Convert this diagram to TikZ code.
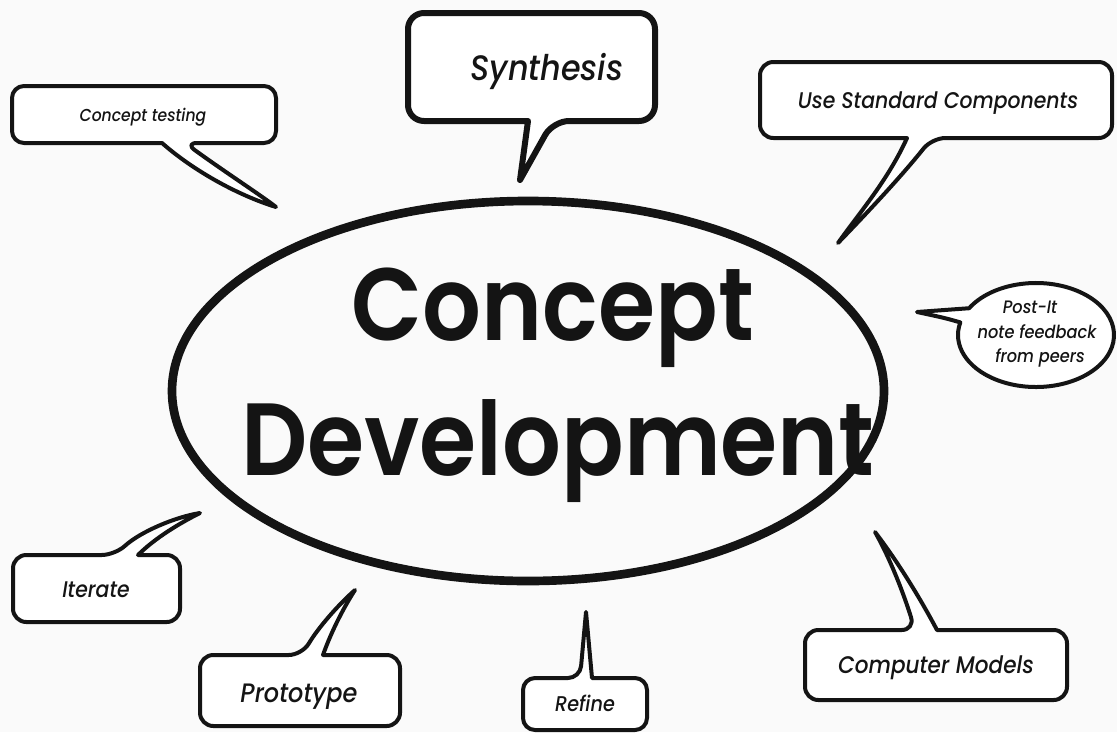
\documentclass[tikz,border=0pt]{standalone}
\usepackage{fontspec}
\setmainfont{Poppins Medium}[ItalicFont={Poppins Medium Italic}, FakeStretch=0.9]
\newfontfamily\headfont{Poppins SemiBold}[FakeStretch=0.9]
\usetikzlibrary{calc}
\definecolor{paper}{RGB}{250,250,250}
\definecolor{ink}{RGB}{20,20,20}
\begin{document}
\begin{tikzpicture}[x=0.75pt,y=-0.75pt,
  bubble/.style={draw=ink, fill=white, line width=3pt, line join=round},
  label/.style={anchor=base, text=ink, inner sep=0pt, font=\itshape},
  headline/.style={anchor=base, text=ink, inner sep=0pt, font=\headfont\fontsize{77}{80}\selectfont},
  centre/.style={draw=ink, line width=6.5pt}]
  \fill[paper] (0,0) rectangle (1117,732);
  \useasboundingbox (0,0) rectangle (1117,732);

  % central idea
  \draw[centre] (528,391) ellipse[x radius=356, y radius=190];
  \node[headline] (concept) at (553,340) {Concept};
  \node[headline] (development) at (558,475) {Development};

  % Concept testing
  \draw[bubble] (162,143) [rounded corners=9] -- (12,143) -- (12,86) -- (276,86) -- (276,143) -- (185,143) [sharp corners]
    .. controls (225,172) and (262,196) .. (276,207)
    .. controls (240,196) and (195,172) .. (162,143) -- cycle;
  \node[label, font=\itshape\fontsize{13}{15}\selectfont] (testing) at (143,121) {Concept testing};

  % Synthesis
  \draw[bubble, line width=4.5pt] (528,121) [rounded corners=12] -- (408,121) -- (408,13) -- (655,13) -- (655,121) -- (553,121) [sharp corners]
    -- (520,180) -- cycle;
  \node[label, font=\itshape\fontsize{26.5}{30}\selectfont] (synthesis) at (547,80) {Synthesis};

  % Use Standard Components
  \draw[bubble] (907,138) [rounded corners=10] -- (760,138) -- (760,62) -- (1112,62) -- (1112,138) -- (932,138) [sharp corners]
    .. controls (900,178) and (865,215) .. (838,243)
    .. controls (860,212) and (888,180) .. (907,138) -- cycle;
  \node[label, font=\itshape\fontsize{17}{19}\selectfont] (components) at (938,108) {Use Standard Components};

  % Post-It feedback
  \draw[bubble] ($(1036,335)+(194:78 and 52)$) .. controls (945,318) .. (917,312)
    -- ($(1036,335)+(211:78 and 52)$)
    arc[start angle=211, end angle=554, x radius=78, y radius=52] -- cycle;
  \node[label, font=\itshape\fontsize{13.5}{15}\selectfont] (postit) at (1030,313) {Post-It};
  \node[label, font=\itshape\fontsize{13.5}{15}\selectfont] (feedback) at (1037,338) {note feedback};
  \node[label, font=\itshape\fontsize{13.5}{15}\selectfont] (peers) at (1040,362) {from peers};

  % Iterate
  \draw[bubble] (138,555) [rounded corners=10] -- (180,555) -- (180,622) -- (13,622) -- (13,555) -- (115,555) [sharp corners]
    .. controls (140,532) and (175,517) .. (200,513)
    .. controls (180,523) and (155,538) .. (138,555) -- cycle;
  \node[label, font=\itshape\fontsize{17}{19}\selectfont] (iterate) at (96,597) {Iterate};

  % Prototype
  \draw[bubble] (323,655) [rounded corners=10] -- (400,655) -- (400,726) -- (200,726) -- (200,655) -- (302,655) [sharp corners]
    .. controls (318,628) and (338,605) .. (355,590)
    .. controls (342,610) and (330,635) .. (323,655) -- cycle;
  \node[label, font=\itshape\fontsize{20}{22}\selectfont] (prototype) at (299,702) {Prototype};

  % Refine
  \draw[bubble] (592,678) [rounded corners=9] -- (647,678) -- (647,730) -- (523,730) -- (523,678) -- (580,678) [sharp corners]
    -- (586,612) -- cycle;
  \node[label, font=\itshape\fontsize{16}{18}\selectfont] (refine) at (585,711) {Refine};

  % Computer Models
  \draw[bubble] (937,630) [rounded corners=10] -- (1067,630) -- (1067,700) -- (805,700) -- (805,630) -- (915,630) [sharp corners]
    .. controls (905,598) and (892,562) .. (875,532)
    .. controls (898,562) and (920,598) .. (937,630) -- cycle;
  \node[label, font=\itshape\fontsize{18}{20}\selectfont] (models) at (936,673) {Computer Models};
\end{tikzpicture}
\end{document}
